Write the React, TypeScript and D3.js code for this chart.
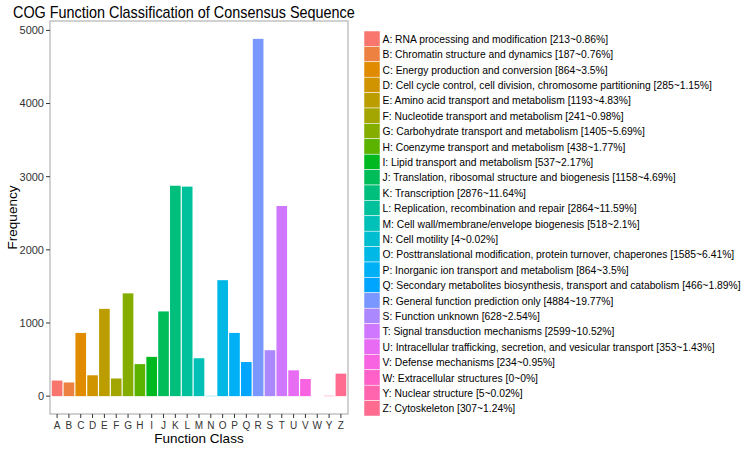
import React from "react";
import * as d3 from "d3";

const categories = ["A","B","C","D","E","F","G","H","I","J","K","L","M","N","O","P","Q","R","S","T","U","V","W","Y","Z"];
const counts = [213,187,864,285,1193,241,1405,438,537,1158,2876,2864,518,4,1585,864,466,4884,628,2599,353,234,0,5,307];
const percents = ["0.86%","0.76%","3.5%","1.15%","4.83%","0.98%","5.69%","1.77%","2.17%","4.69%","11.64%","11.59%","2.1%","0.02%","6.41%","3.5%","1.89%","19.77%","2.54%","10.52%","1.43%","0.95%","0%","0.02%","1.24%"];
const descriptions = [
  "RNA processing and modification",
  "Chromatin structure and dynamics",
  "Energy production and conversion",
  "Cell cycle control, cell division, chromosome partitioning",
  "Amino acid transport and metabolism",
  "Nucleotide transport and metabolism",
  "Carbohydrate transport and metabolism",
  "Coenzyme transport and metabolism",
  "Lipid transport and metabolism",
  "Translation, ribosomal structure and biogenesis",
  "Transcription",
  "Replication, recombination and repair",
  "Cell wall/membrane/envelope biogenesis",
  "Cell motility",
  "Posttranslational modification, protein turnover, chaperones",
  "Inorganic ion transport and metabolism",
  "Secondary metabolites biosynthesis, transport and catabolism",
  "General function prediction only",
  "Function unknown",
  "Signal transduction mechanisms",
  "Intracellular trafficking, secretion, and vesicular transport",
  "Defense mechanisms",
  "Extracellular structures",
  "Nuclear structure",
  "Cytoskeleton",
];
const yTicks = [0, 1000, 2000, 3000, 4000, 5000];

// ggplot2-style hue palette (polar LUV)
function hclLuvToHex(h: number, c: number, l: number): string {
  const hr = (h * Math.PI) / 180;
  const u = c * Math.cos(hr);
  const v = c * Math.sin(hr);
  const Xn = 95.047, Yn = 100, Zn = 108.883;
  const den = Xn + 15 * Yn + 3 * Zn;
  const un = (4 * Xn) / den, vn = (9 * Yn) / den;
  const Y = l > 8 ? Yn * Math.pow((l + 16) / 116, 3) : (Yn * l) / 903.3;
  const up = u / (13 * l) + un;
  const vp = v / (13 * l) + vn;
  const X = (Y * 9 * up) / (4 * vp);
  const Z = (Y * (12 - 3 * up - 20 * vp)) / (4 * vp);
  const x = X / 100, y = Y / 100, z = Z / 100;
  const r = 3.2404542 * x - 1.5371385 * y - 0.4985314 * z;
  const g = -0.969266 * x + 1.8760108 * y + 0.041556 * z;
  const b = 0.0556434 * x - 0.2040259 * y + 1.0572252 * z;
  const gam = (t: number) => {
    const s = t <= 0.0031308 ? 12.92 * t : 1.055 * Math.pow(t, 1 / 2.4) - 0.055;
    return Math.round(Math.max(0, Math.min(1, s)) * 255);
  };
  return d3.rgb(gam(r), gam(g), gam(b)).formatHex();
}

const n = categories.length;
const colors = d3.range(n).map((i) => hclLuvToHex(15 + (360 / n) * i, 100, 65));

const W = 750, H = 450;
const panel = { left: 50, right: 348, top: 21, bottom: 414 };
const font = "'Liberation Sans', Arial, Helvetica, sans-serif";
const SX = 0.89;

function SqText(props: { x: number; y: number; size: number; children: React.ReactNode; fill?: string }) {
  return (
    <text transform={`translate(${props.x},${props.y}) scale(${SX},1)`} fontSize={props.size} fill={props.fill || "#000"} dy="0.35em">
      {props.children}
    </text>
  );
}

export default function App() {
  const maxV = d3.max(counts) as number;
  const yPad = maxV * 0.05;
  const y = d3.scaleLinear().domain([-yPad, maxV + yPad]).range([panel.bottom, panel.top]);
  // ggplot discrete axis: integer positions with 0.6 expansion each side; bar width 0.9
  const x = d3.scaleLinear().domain([1 - 0.6, n + 0.6]).range([panel.left, panel.right]);
  const step = x(2) - x(1);
  const bw = step * 0.9;
  const cx = (i: number) => x(i + 1);

  const legendTop = 31;
  const rowH = 15.4;
  const keyX = 364, keyW = 16;

  return (
    <svg width={W} height={H} style={{ position: "absolute", left: 0, top: 0, background: "#fff" }} fontFamily={font}>
      <text transform={`translate(13,18) scale(0.9,1)`} fontSize={16} fill="#000">COG Function Classification of Consensus Sequence</text>
      <rect x={panel.left} y={panel.top} width={panel.right - panel.left} height={panel.bottom - panel.top} fill="#fff" stroke="#b3b3b3" strokeWidth={1.2} />
      {counts.map((v, i) => (
        <rect key={categories[i]} x={cx(i) - bw / 2} y={Math.min(y(v), y(0))} width={bw} height={Math.abs(y(0) - y(v))} fill={colors[i]} />
      ))}
      {yTicks.map((t) => (
        <g key={t}>
          <line x1={panel.left - 4} x2={panel.left} y1={y(t)} y2={y(t)} stroke="#333" strokeWidth={1} />
          <text x={panel.left - 6} y={y(t)} dy="0.35em" textAnchor="end" fontSize={11} fill="#333">{t}</text>
        </g>
      ))}
      {categories.map((c, i) => (
        <g key={c}>
          <line x1={cx(i)} x2={cx(i)} y1={panel.bottom} y2={panel.bottom + 4} stroke="#333" strokeWidth={1} />
          <text x={cx(i)} y={panel.bottom + 15} textAnchor="middle" fontSize={10} fill="#333">{c}</text>
        </g>
      ))}
      <text x={(panel.left + panel.right) / 2} y={443} textAnchor="middle" fontSize={13.5} fill="#000">Function Class</text>
      <text transform={`translate(17,${(panel.top + panel.bottom) / 2}) rotate(-90)`} textAnchor="middle" fontSize={13.5} fill="#000">Frequency</text>
      {categories.map((c, i) => (
        <g key={"lg" + c}>
          <rect x={keyX} y={legendTop + i * rowH} width={keyW} height={rowH} fill={colors[i]} stroke="#fff" strokeWidth={0.5} />
          <SqText x={keyX + keyW + 2.5} y={legendTop + i * rowH + rowH / 2} size={11.6}>
            {`${c}: ${descriptions[i]} [${counts[i]}~${percents[i]}]`}
          </SqText>
        </g>
      ))}
    </svg>
  );
}
